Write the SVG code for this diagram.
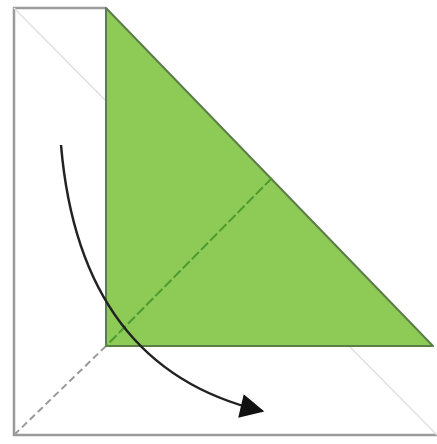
<svg xmlns="http://www.w3.org/2000/svg" width="437" height="444" viewBox="0 0 437 444">
<defs>
<style>
.outline{fill:none;stroke:#9a9a9a;stroke-width:2.5}
.faint{fill:none;stroke:#e0e0e0;stroke-width:1.5}
.fold{fill:none;stroke:#9a9a9a;stroke-width:2;stroke-dasharray:7,4}
.crease{fill:none;stroke:#4e9a2e;stroke-width:2;stroke-dasharray:10,3}
.flap{fill:#8dcb56;stroke:#5c7d48;stroke-width:2;stroke-linejoin:round}
.arrow{fill:none;stroke:#222;stroke-width:2.5}
</style>
<marker id="headL" viewBox="0 0 10 10" refX="9" refY="5" markerWidth="30" markerHeight="24" markerUnits="userSpaceOnUse" orient="auto">
<path d="M0,0 L10,5 L0,10 Z" fill="#111"/>
</marker>
</defs>
<g id="square">
<path class="outline" d="M106,8 L14,8 L14,435 L437,435"/>
<path class="faint" d="M14,8 L106,101"/>
<path class="faint" d="M349,346 L437,435"/>
<path class="fold" d="M106,346 L14,435"/>
</g>
<g id="flap">
<path class="flap" d="M106,8 L106,346 L433,346 Z"/>
<path class="crease" d="M272,178 L106,346"/>
</g>
<g id="connectors">
<path class="arrow" d="M61,145 Q80,368 262,411" marker-end="url(#headL)"/>
</g>
</svg>
